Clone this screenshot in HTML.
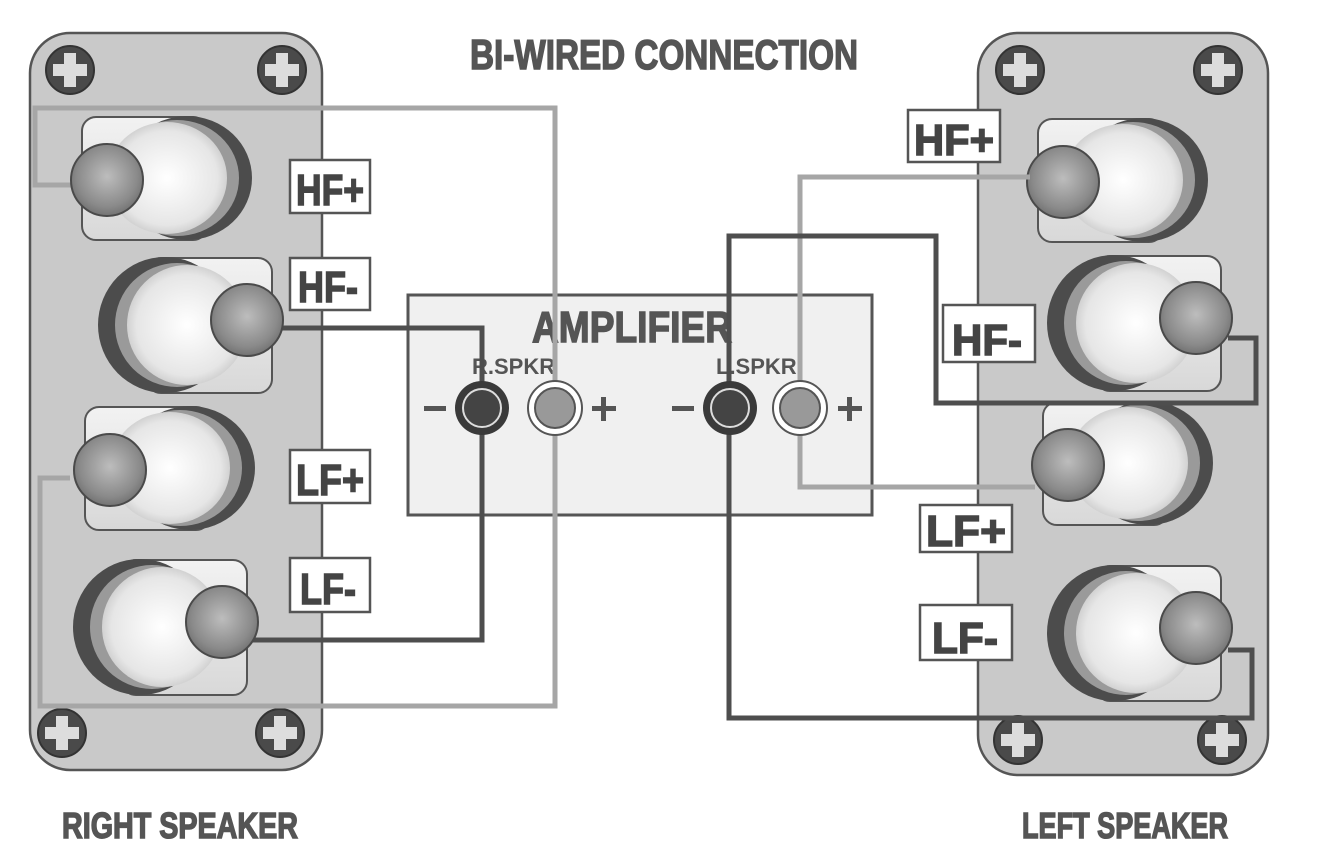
<!DOCTYPE html>
<html><head><meta charset="utf-8"><style>
html,body{margin:0;padding:0;background:#fff;}
svg{display:block;}
text{font-family:"Liberation Sans Narrow","Liberation Sans",sans-serif;font-weight:bold;}
</style></head><body>
<svg width="1323" height="856" viewBox="0 0 1323 856" xmlns="http://www.w3.org/2000/svg">
<defs>
<radialGradient id="knob" cx="0.5" cy="0.45" r="0.6"><stop offset="0" stop-color="#bdbdbd"/><stop offset="0.7" stop-color="#8a8a8a"/><stop offset="1" stop-color="#6a6a6a"/></radialGradient>
<radialGradient id="body" cx="0.5" cy="0.5" r="0.6"><stop offset="0" stop-color="#ffffff"/><stop offset="0.7" stop-color="#e6e6e6"/><stop offset="1" stop-color="#b8b8b8"/></radialGradient>
<linearGradient id="plate" x1="0" y1="0" x2="0" y2="1"><stop offset="0" stop-color="#f2f2f2"/><stop offset="1" stop-color="#d8d8d8"/></linearGradient>
<g id="screw"><circle r="24" fill="#4a4a4a" stroke="#333" stroke-width="2"/><rect x="-17" y="-6" width="34" height="12" fill="#ddd"/><rect x="-6" y="-17" width="12" height="34" fill="#ddd"/></g>
<g id="tL">
<rect x="-25" y="-63" width="125" height="123" rx="14" fill="url(#plate)" stroke="#555" stroke-width="2"/>
<ellipse cx="80" cy="-2" rx="65" ry="62" fill="#4c4c4c"/>
<ellipse cx="70" cy="-2" rx="62" ry="58" fill="#9a9a9a"/>
<ellipse cx="60" cy="-2" rx="60" ry="56" fill="url(#body)"/>
<circle r="36" fill="url(#knob)" stroke="#4a4a4a" stroke-width="2"/>
</g>
<g id="tR">
<rect x="-100" y="-62" width="125" height="135" rx="14" fill="url(#plate)" stroke="#555" stroke-width="2"/>
<ellipse cx="-82" cy="5" rx="67" ry="68" fill="#4c4c4c"/>
<ellipse cx="-70" cy="5" rx="62" ry="62" fill="#9a9a9a"/>
<ellipse cx="-60" cy="5" rx="60" ry="60" fill="url(#body)"/>
<circle r="36" fill="url(#knob)" stroke="#4a4a4a" stroke-width="2"/>
</g>
</defs>

<g fill="#555" stroke="#555" stroke-width="1.5">
<text x="470" y="69" font-size="42" textLength="388" lengthAdjust="spacingAndGlyphs">BI-WIRED CONNECTION</text>
<text x="62" y="838" font-size="36" textLength="236" lengthAdjust="spacingAndGlyphs">RIGHT SPEAKER</text>
<text x="1022" y="838" font-size="36" textLength="206" lengthAdjust="spacingAndGlyphs">LEFT SPEAKER</text>
</g>

<rect x="30" y="33" width="292" height="737" rx="40" fill="#c9c9c9" stroke="#555" stroke-width="2.5"/>
<rect x="978" y="33" width="290" height="742" rx="40" fill="#c9c9c9" stroke="#555" stroke-width="2.5"/>

<use href="#screw" x="70" y="70"/><use href="#screw" x="282" y="70"/>
<use href="#screw" x="62" y="733"/><use href="#screw" x="280" y="733"/>
<use href="#screw" x="1020" y="70"/><use href="#screw" x="1218" y="70"/>
<use href="#screw" x="1018" y="740"/><use href="#screw" x="1222" y="740"/>

<rect x="408" y="295" width="464" height="220" fill="#f0f0f0" stroke="#555" stroke-width="3"/>
<text x="532" y="342" font-size="44" fill="#555" stroke="#555" stroke-width="1.5" textLength="200" lengthAdjust="spacingAndGlyphs">AMPLIFIER</text>
<text x="472" y="374" font-size="22" fill="#555" font-family="Liberation Sans">R.SPKR</text>
<text x="716" y="374" font-size="22" fill="#555" font-family="Liberation Sans">L.SPKR</text>

<g fill="none" stroke="#a6a6a6" stroke-width="5">
<polyline points="555,408 555,108 35,108 35,185 72,185"/>
<polyline points="555,408 555,706 40,706 40,478 70,478"/>
<polyline points="800,408 800,177 1030,177"/>
<polyline points="800,408 800,487 1035,487"/>
</g>
<g fill="none" stroke="#4e4e4e" stroke-width="5">
<polyline points="482,408 482,328 275,328"/>
<polyline points="482,408 482,640 250,640"/>
</g>

<use href="#tL" x="107" y="180"/>
<use href="#tR" x="247" y="320"/>
<use href="#tL" x="110" y="470"/>
<use href="#tR" x="222" y="622"/>
<use href="#tL" x="1063" y="182"/>
<use href="#tR" x="1196" y="318"/>
<use href="#tL" x="1068" y="465"/>
<use href="#tR" x="1196" y="628"/>

<g fill="none" stroke="#4e4e4e" stroke-width="5">
<polyline points="729,408 729,236 936,236 936,403 1256,403 1256,338 1228,338"/>
<polyline points="729,408 729,718 1252,718 1252,650 1228,650"/>
</g>
<g fill="none" stroke="#a6a6a6" stroke-width="5">
<polyline points="1000,177 1030,177"/>
<polyline points="1000,487 1035,487"/>
</g>

<g>
<circle cx="482" cy="408" r="27" fill="#3a3a3a"/><circle cx="482" cy="408" r="19" fill="#444" stroke="#ddd" stroke-width="2"/>
<circle cx="555" cy="408" r="27" fill="#fff" stroke="#555" stroke-width="2"/><circle cx="555" cy="408" r="20" fill="#999" stroke="#555" stroke-width="2"/>
<circle cx="730" cy="408" r="27" fill="#3a3a3a"/><circle cx="730" cy="408" r="19" fill="#444" stroke="#ddd" stroke-width="2"/>
<circle cx="800" cy="408" r="27" fill="#fff" stroke="#555" stroke-width="2"/><circle cx="800" cy="408" r="20" fill="#999" stroke="#555" stroke-width="2"/>
<rect x="424" y="406" width="22" height="5" fill="#555"/>
<rect x="592" y="406" width="24" height="5" fill="#555"/><rect x="601" y="397" width="5" height="24" fill="#555"/>
<rect x="672" y="406" width="22" height="5" fill="#555"/>
<rect x="838" y="406" width="24" height="5" fill="#555"/><rect x="847" y="397" width="5" height="24" fill="#555"/>
</g>

<g fill="#fff" stroke="#555" stroke-width="2.5">
<rect x="290" y="160" width="80" height="53"/>
<rect x="290" y="258" width="80" height="52"/>
<rect x="290" y="450" width="80" height="53"/>
<rect x="290" y="558" width="80" height="54"/>
<rect x="908" y="110" width="92" height="52"/>
<rect x="943" y="305" width="92" height="57"/>
<rect x="920" y="505" width="92" height="47"/>
<rect x="920" y="605" width="92" height="55"/>
</g>
<g font-size="44" fill="#444" stroke="#444" stroke-width="1.5">
<text x="296" y="205" textLength="68" lengthAdjust="spacingAndGlyphs">HF+</text>
<text x="298" y="302" textLength="60" lengthAdjust="spacingAndGlyphs">HF-</text>
<text x="296" y="495" textLength="68" lengthAdjust="spacingAndGlyphs">LF+</text>
<text x="300" y="604" textLength="56" lengthAdjust="spacingAndGlyphs">LF-</text>
<text x="914" y="155" textLength="80" lengthAdjust="spacingAndGlyphs">HF+</text>
<text x="952" y="355" textLength="70" lengthAdjust="spacingAndGlyphs">HF-</text>
<text x="926" y="546" textLength="80" lengthAdjust="spacingAndGlyphs">LF+</text>
<text x="932" y="653" textLength="66" lengthAdjust="spacingAndGlyphs">LF-</text>
</g>
</svg>
</body></html>
